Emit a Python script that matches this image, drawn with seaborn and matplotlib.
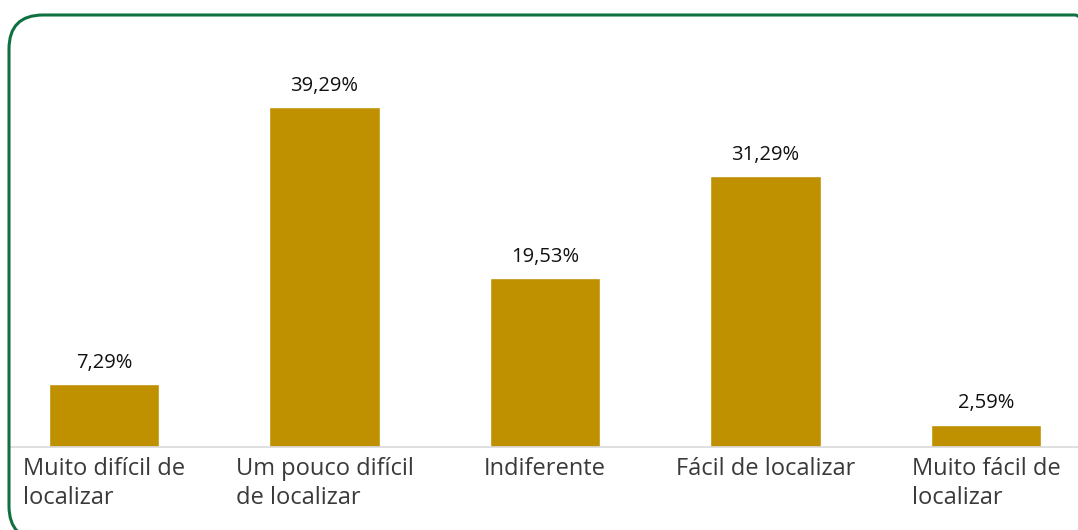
import matplotlib
matplotlib.use("Agg")
import matplotlib.pyplot as plt
import seaborn as sns
import pandas as pd
from matplotlib.patches import FancyBboxPatch
from matplotlib.transforms import IdentityTransform

categories = ["Muito difícil de\nlocalizar", "Um pouco difícil\nde localizar", "Indiferente",
              "Fácil de localizar", "Muito fácil de\nlocalizar"]
values = [7.29, 39.29, 19.53, 31.29, 2.59]
value_labels = ["7,29%", "39,29%", "19,53%", "31,29%", "2,59%"]

sns.set_style("white")
plt.rcParams['font.family'] = ['Open Sans', 'DejaVu Sans']

fig = plt.figure(figsize=(10.78, 5.30), dpi=100)
W, H = 1078, 530
# axes: left px 10 -> right 1078, bottom baseline at y=447 (from top), top at y=40
ax = fig.add_axes([10 / W, (H - 447) / H, (W - 10) / W, (447 - 40) / H])

df = pd.DataFrame({"cat": categories, "val": values})
sns.barplot(data=df, x="cat", y="val", color="#BF9000", saturation=1, width=0.5, ax=ax)

# slot width 220.5 px, centre of first at 104 px
ax.set_xlim((10 - 104) / 220.5, (1078 - 104) / 220.5)
ax.set_ylim(0, 407 / 8.654)

for i, (v, lab) in enumerate(zip(values, value_labels)):
    ax.annotate(lab, (i, v), xytext=(0, 8), textcoords="offset points",
                ha="center", va="bottom", fontsize=14.5, color="#111111")

ax.set_xlabel("")
ax.set_ylabel("")
ax.set_yticks([])
ax.set_xticks(range(len(categories)))
ax.set_xticklabels(categories, fontsize=17, color="#3a3a3a", ha="center",
                   multialignment="left", linespacing=1.3)
ax.tick_params(axis="x", length=0, pad=7)
for s in ["top", "left", "right"]:
    ax.spines[s].set_visible(False)
ax.spines["bottom"].set_color("#d9d9d9")
ax.spines["bottom"].set_linewidth(1.2)
ax.patch.set_alpha(0)

border = FancyBboxPatch((9, -10), 1100, 530 - 15 + 10, boxstyle="round,pad=0,rounding_size=34",
                        transform=IdentityTransform(), fill=False, edgecolor="#0F7040",
                        linewidth=2.2, zorder=10)
fig.patches.append(border)

fig.savefig("out.png", dpi=100)
